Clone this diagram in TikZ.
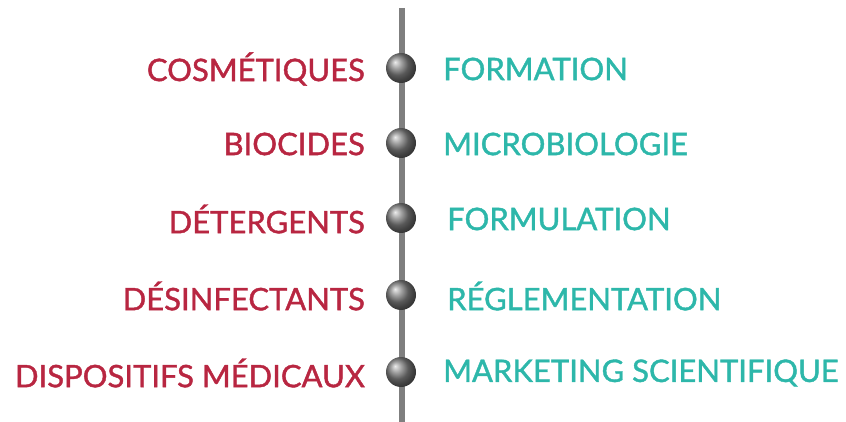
\documentclass[tikz,border=0pt]{standalone}
\usepackage{fontspec}
\setmainfont{Lato}
\newfontfamily\medfont[FakeBold=1.3]{Lato}
\definecolor{redc}{HTML}{B82641}
\definecolor{tealc}{HTML}{2DB7AA}
\definecolor{linec}{HTML}{7F7F7F}
\begin{document}
\begin{tikzpicture}[x=1pt,y=-1pt,
  lefttext/.style={anchor=east,text=redc,font=\medfont\fontsize{31}{32}\selectfont,inner sep=0pt},
  righttext/.style={anchor=west,text=tealc,font=\medfont\fontsize{31}{32}\selectfont,inner sep=0pt},
  ballnode/.style={circle,minimum size=30pt,inner sep=0pt,shading=ball,ball color=gray}]
\useasboundingbox (0,0) rectangle (846,422);
\coordinate (top) at (402,8);
\coordinate (bot) at (402,422);
\draw[linec,line width=5.5pt] (top) -- (bot);
\foreach \y/\l/\r/\rx [count=\i] in {68/COSMÉTIQUES/FORMATION/443,143/BIOCIDES/MICROBIOLOGIE/443,218/DÉTERGENTS/FORMULATION/447,295/DÉSINFECTANTS/RÉGLEMENTATION/447,372/DISPOSITIFS MÉDICAUX/MARKETING SCIENTIFIQUE/443}{
  \node[ballnode] (b\i) at (401,\y) {};
  \node[lefttext] (l\i) at (365,\y+1) {\l};
  \node[righttext] (r\i) at (\rx,\y+1) {\r};
}
\end{tikzpicture}
\end{document}
